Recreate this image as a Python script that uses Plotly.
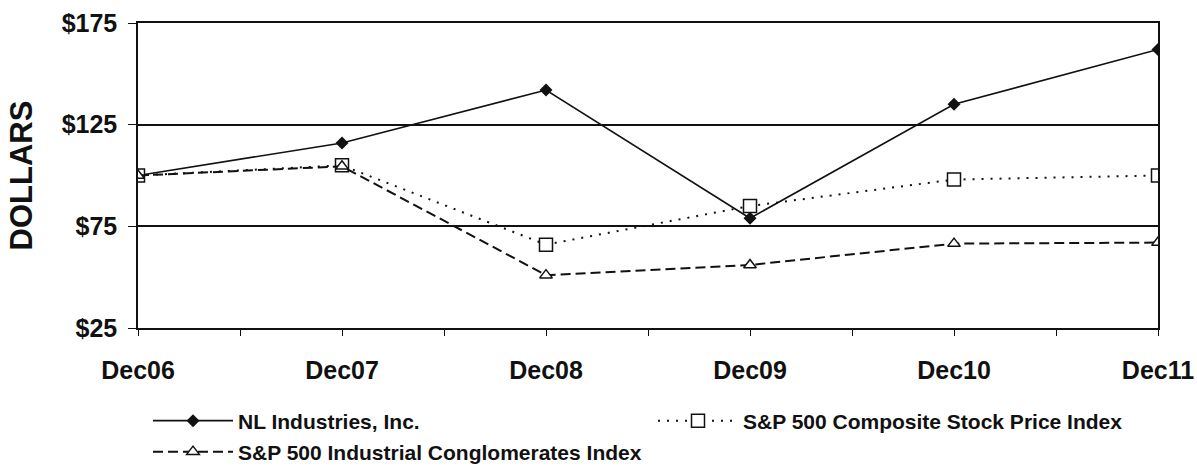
import plotly.graph_objects as go

categories = ["Dec06", "Dec07", "Dec08", "Dec09", "Dec10", "Dec11"]
nl_industries = [100, 116, 142, 79, 135, 162]
sp500_composite = [100, 105, 66, 85, 98, 100]
sp500_conglomerates = [100, 104.5, 51, 56, 66.5, 67]
y_ticks = [25, 75, 125, 175]
y_ticktext = ["$25", "$75", "$125", "$175"]

xpos = list(range(len(categories)))
FONT = "Liberation Sans, Arial, sans-serif"

fig = go.Figure()
fig.add_trace(go.Scatter(
    x=xpos, y=nl_industries, name="NL Industries, Inc.", mode="lines+markers",
    line=dict(color="#111", width=1.6),
    marker=dict(symbol="diamond", size=10, color="#111"),
    legend="legend",
))
fig.add_trace(go.Scatter(
    x=xpos, y=sp500_composite, name="S&P 500 Composite Stock Price Index",
    mode="lines+markers",
    line=dict(color="#111", width=2, dash="2px,7px"),
    marker=dict(symbol="square", size=13, color="white", line=dict(color="#111", width=1.5)),
    legend="legend2",
))
fig.add_trace(go.Scatter(
    x=xpos, y=sp500_conglomerates, name="S&P 500 Industrial Conglomerates Index",
    mode="lines+markers",
    line=dict(color="#111", width=2, dash="10px,5px"),
    marker=dict(symbol="triangle-up", size=11, color="white", line=dict(color="#111", width=1.5)),
    legend="legend3",
))

W, H = 1197, 466
L, R, T, B = 138, 39, 23, 138
pw, ph = W - L - R, H - T - B

def px_x(p):
    return (p - L) / pw

def px_y(p):
    return (H - B - p) / ph

legend_common = dict(
    orientation="v", xanchor="left", yanchor="middle",
    font=dict(family=FONT, size=21, color="#111", weight="bold"),
    bgcolor="rgba(0,0,0,0)", borderwidth=0, itemwidth=80,
)

fig.update_layout(
    width=W, height=H,
    margin=dict(l=L, r=R, t=T, b=B, autoexpand=False),
    paper_bgcolor="white", plot_bgcolor="white",
    font=dict(family=FONT, color="#111"),
    showlegend=True,
    legend=dict(x=px_x(148), y=px_y(421), **legend_common),
    legend2=dict(x=px_x(653), y=px_y(421), **legend_common),
    legend3=dict(x=px_x(148), y=px_y(452), **legend_common),
    xaxis=dict(
        range=[0, 5], tickvals=xpos, ticktext=categories,
        showgrid=False, zeroline=False,
        showline=True, linecolor="#111", linewidth=1.5, mirror=True,
        ticks="outside", ticklen=6, tickcolor="#111", tickwidth=1.2,
        minor=dict(tick0=0.5, dtick=1, ticks="outside", ticklen=6, tickcolor="#111", tickwidth=1.2, showgrid=False),
        tickfont=dict(family=FONT, size=25, color="#111", weight="bold"),
        ticklabelstandoff=13,
    ),
    yaxis=dict(
        range=[25, 175], tickvals=y_ticks, ticktext=y_ticktext,
        showgrid=True, gridcolor="#111", gridwidth=1.5, zeroline=False,
        showline=True, linecolor="#111", linewidth=1.5, mirror=True,
        ticks="outside", ticklen=8, tickcolor="#111", tickwidth=1.2,
        tickfont=dict(family=FONT, size=25, color="#111", weight="bold"),
        ticklabelstandoff=6,
        title=dict(text="DOLLARS", font=dict(family=FONT, size=31, color="#111", weight="bold"), standoff=20),
    ),
)

fig.write_html(
    "out.html",
    config={"displayModeBar": False},
    post_script="document.body.style.margin='0';document.body.style.overflow='hidden';",
)
